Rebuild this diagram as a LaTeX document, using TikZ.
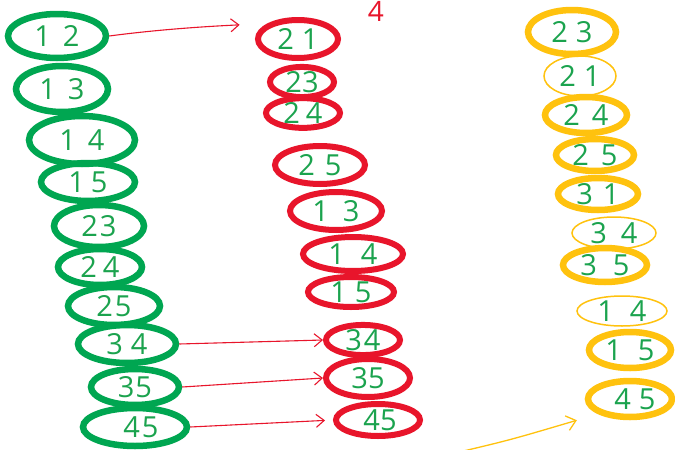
\documentclass[tikz,border=0pt]{standalone}
\usepackage{fontspec}
\setmainfont{Open Sans}
\usetikzlibrary{shapes.geometric,arrows.meta}
\definecolor{gE}{HTML}{00A651}
\definecolor{gT}{HTML}{1BA34E}
\definecolor{rE}{HTML}{E8152B}
\definecolor{oE}{HTML}{FFC20E}
\begin{document}
\begin{tikzpicture}[x=1pt,y=-1pt,
  ov/.style={ellipse, inner sep=0pt, text=gT, font=\fontsize{29}{29}\selectfont},
  gov/.style={ov, draw=gE, line width=6.5pt},
  rov/.style={ov, draw=rE, line width=6pt},
  otk/.style={ov, draw=oE, line width=6.5pt},
  otn/.style={ov, draw=oE, line width=1.5pt},
  ra/.style={draw=rE, line width=1.1pt, -{Straight Barb[length=8pt,width=13pt]}},
  oa/.style={draw=oE, line width=1.3pt, -{Straight Barb[length=9pt,width=15pt]}}]
\clip (0,0) rectangle (675,450);
\fill[white] (0,0) rectangle (675,450);
% green column
\node[gov, minimum width=98pt, minimum height=44pt] (g12) at (57,36) {1\hspace{12pt}2};
\node[gov, minimum width=92pt, minimum height=46pt] (g13) at (62,89) {1\hspace{12pt}3};
\node[gov, minimum width=106pt, minimum height=48pt] (g14) at (82,140) {1\hspace{12pt}4};
\node[gov, minimum width=94pt, minimum height=38pt] (g15) at (88,182) {1\hspace{6pt}5};
\node[gov, minimum width=90pt, minimum height=42pt] (g23) at (99,226) {2\hspace{2pt}3};
\node[gov, minimum width=84pt, minimum height=36pt] (g24) at (100,267) {2\hspace{6pt}4};
\node[gov, minimum width=92pt, minimum height=38pt] (g25) at (114,306) {2\hspace{2pt}5};
\node[gov, minimum width=98pt, minimum height=38pt] (g34) at (127,344) {3\hspace{8pt}4};
\node[gov, minimum width=88pt, minimum height=36pt] (g35) at (135,387) {3\hspace{1pt}5};
\node[gov, minimum width=104pt, minimum height=38pt] (g45) at (135,427) {\hspace{12pt}4\hspace{2pt}5};
% red column
\node[rov, minimum width=80pt, minimum height=38pt] (r21) at (298,39) {2\hspace{8pt}1};
\node[rov, minimum width=64pt, minimum height=26pt] (r23) at (302,82) {23};
\node[rov, minimum width=74pt, minimum height=28pt] (r24) at (303,113) {2\hspace{6pt}4};
\node[rov, minimum width=90pt, minimum height=38pt] (r25) at (320,165) {2\hspace{10pt}5};
\node[rov, minimum width=92pt, minimum height=38pt] (r13) at (336,211) {1\hspace{14pt}3};
\node[rov, minimum width=100pt, minimum height=34pt] (r14) at (353,254) {1\hspace{16pt}4};
\node[rov, minimum width=86pt, minimum height=30pt] (r15) at (351,292) {1\hspace{8pt}5};
\node[rov, minimum width=74pt, minimum height=30pt] (r34) at (363,340) {3\hspace{2pt}4};
\node[rov, minimum width=84pt, minimum height=38pt] (r35) at (368,378) {35\hspace{10pt}};
\node[rov, minimum width=84pt, minimum height=32pt] (r45) at (378,420) {\hspace{4pt}45};
\node[text=rE, font=\fontsize{28}{28}\selectfont, inner sep=0pt, anchor=north] (r4) at (376,1) {4};
% orange column
\node[otk, minimum width=88pt, minimum height=44pt] (o23) at (572,32) {2\hspace{8pt}3};
\node[otn, minimum width=72pt, minimum height=40pt] (o21) at (580,76) {2\hspace{8pt}1};
\node[otk, minimum width=82pt, minimum height=36pt] (o24) at (586,115) {2\hspace{12pt}4};
\node[otk, minimum width=78pt, minimum height=32pt] (o25) at (595,155) {2\hspace{12pt}5};
\node[otk, minimum width=80pt, minimum height=32pt] (o31) at (598,194) {3\hspace{10pt}1};
\node[otn, minimum width=84pt, minimum height=32pt] (o34) at (614,233) {3\hspace{14pt}4};
\node[otk, minimum width=84pt, minimum height=34pt] (o35) at (605,265) {3\hspace{16pt}5};
\node[otn, minimum width=90pt, minimum height=30pt] (o14) at (622,311) {1\hspace{16pt}4};
\node[otk, minimum width=82pt, minimum height=36pt] (o15) at (630,350) {1\hspace{16pt}5};
\node[otk, minimum width=84pt, minimum height=36pt] (o45) at (630,399) {\hspace{10pt}4\hspace{8pt}5};
% arrows
\draw[ra, shorten >=28pt] (g12.east) .. controls +(60,-8) and +(-40,2) .. (r21.north west);
\draw[ra] (g34.east) -- (r34.west);
\draw[ra] (g35.east) -- (r35.west);
\draw[ra, shorten >=8pt] (g45.east) -- (r45.west);
\coordinate (os) at (455,453);
\draw[oa, shorten >=22pt] (os) .. controls (510,440) .. (o45.south west);
\end{tikzpicture}
\end{document}
